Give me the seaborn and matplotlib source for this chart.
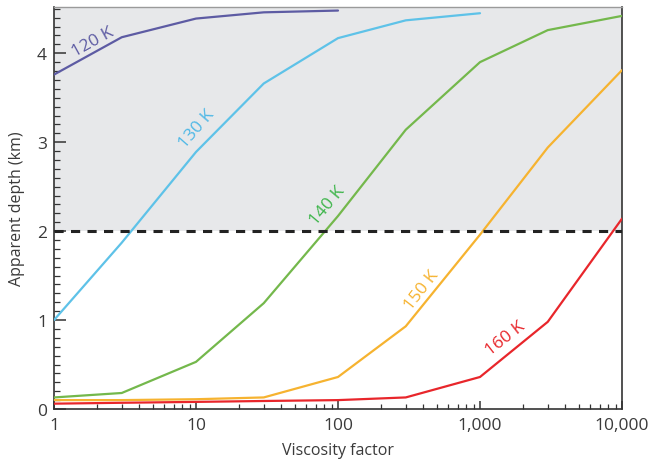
import numpy as np
import pandas as pd
import matplotlib
matplotlib.use("Agg")
import matplotlib.pyplot as plt
import matplotlib.ticker as mticker
import seaborn as sns

# Viscosity factors sampled in the model runs
viscosity = [1, 3, 10, 30, 100, 300, 1000, 3000, 10000]

# Apparent depth (km) for each surface temperature
depth_120 = [3.76, 4.18, 4.39, 4.46, 4.48]
depth_130 = [1.00, 1.87, 2.89, 3.66, 4.17, 4.37, 4.45]
depth_140 = [0.13, 0.18, 0.53, 1.19, 2.17, 3.14, 3.90, 4.26, 4.42]
depth_150 = [0.10, 0.10, 0.11, 0.13, 0.36, 0.93, 1.96, 2.94, 3.81]
depth_160 = [0.06, 0.07, 0.08, 0.09, 0.10, 0.13, 0.36, 0.98, 2.14]

temps = ["120 K", "130 K", "140 K", "150 K", "160 K"]
series = [depth_120, depth_130, depth_140, depth_150, depth_160]
line_colors = ["#5d5ba3", "#5ec2e8", "#74b84c", "#f6b330", "#e8262b"]
text_colors = ["#5d5ba3", "#4fb8e6", "#3db54a", "#f6b330", "#e8262b"]

# Label anchor points (data coords) and angles
label_x = [1.88, 10.2, 84, 390, 1520]
label_y = [4.13, 3.16, 2.29, 1.34, 0.80]
label_rot = [29, 49, 50, 52, 38]

threshold_depth = 2.0
y_top = 4.52

xtick_vals = [1, 10, 100, 1000, 10000]
xtick_labels = ["1", "10", "100", "1,000", "10,000"]
ytick_vals = [0, 1, 2, 3, 4]

rows = []
for t, s in zip(temps, series):
    for v, d in zip(viscosity, s):
        rows.append({"Viscosity factor": v, "Apparent depth (km)": d, "T": t})
df = pd.DataFrame(rows)

sns.set_theme(style="ticks")
plt.rcParams["font.family"] = ["Open Sans", "DejaVu Sans"]

fig = plt.figure(figsize=(6.54, 4.64), dpi=100)
ax = fig.add_axes([54 / 654, 1 - 410 / 464, (622 - 54) / 654, (410 - 8) / 464])

# Shaded zone beyond the threshold depth
ax.axhspan(threshold_depth, y_top, color="#e7e8ea", zorder=0, lw=0)

sns.lineplot(data=df, x="Viscosity factor", y="Apparent depth (km)", hue="T",
             palette=dict(zip(temps, line_colors)), linewidth=1.6,
             legend=False, ax=ax, zorder=3)

ax.axhline(threshold_depth, color="#222222", lw=2.2, ls=(0, (3.0, 2.4)), zorder=4)

for t, x, y, r, c in zip(temps, label_x, label_y, label_rot, text_colors):
    ax.text(x, y, t, rotation=r, rotation_mode="anchor", ha="center", va="center",
            color=c, fontsize=12.5, zorder=5)

ax.set_xscale("log")
ax.set_xlim(1, 10000)
ax.set_ylim(0, y_top)
ax.set_xticks(xtick_vals)
ax.set_xticklabels(xtick_labels)
ax.xaxis.set_minor_locator(mticker.LogLocator(base=10, subs=np.arange(2, 10)))
ax.xaxis.set_minor_formatter(mticker.NullFormatter())
ax.set_yticks(ytick_vals)
ax.yaxis.set_minor_locator(mticker.MultipleLocator(0.1))

ax.tick_params(axis="x", which="major", direction="in", length=6, width=1.1,
               colors="#333333", labelsize=12.5, labelcolor="#3a3a3a", pad=6)
ax.tick_params(axis="x", which="minor", direction="in", length=3.5, width=0.9,
               colors="#333333")
ax.tick_params(axis="y", which="major", direction="in", length=8.5, width=1.1,
               colors="#333333", labelsize=12.5, labelcolor="#3a3a3a", pad=5)
ax.tick_params(axis="y", which="minor", direction="in", length=4.3, width=0.9,
               colors="#333333")

for side in ["left", "bottom", "right"]:
    ax.spines[side].set_visible(True)
    ax.spines[side].set_color("#333333")
    ax.spines[side].set_linewidth(1.2)
ax.spines["top"].set_visible(True)
ax.spines["top"].set_color("#9a9a9a")
ax.spines["top"].set_linewidth(1.0)

ax.set_xlabel("Viscosity factor", fontsize=11.5, color="#3a3a3a", labelpad=6)
ax.set_ylabel("Apparent depth (km)", fontsize=11.5, color="#3a3a3a", labelpad=9)

fig.savefig("out.png", dpi=100)
